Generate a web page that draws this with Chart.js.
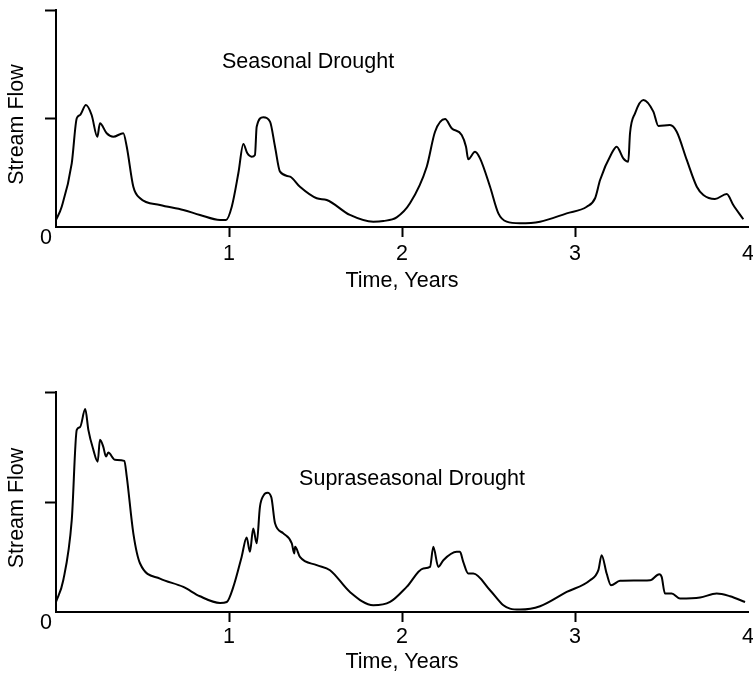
<!DOCTYPE html>
<html>
<head>
<meta charset="utf-8">
<script src="https://cdn.jsdelivr.net/npm/chart.js@4.4.1/dist/chart.umd.min.js"></script>
<style>
  html, body { margin: 0; padding: 0; background: #fff; }
  canvas { display: block; }
</style>
</head>
<body>
<canvas id="chart-seasonal" width="753" height="340"></canvas>
<canvas id="chart-supra" width="753" height="335"></canvas>
<script>
// axis ticks (years / relative flow)
const xTickValues = [0, 1, 2, 3, 4];
const yTickValues = [0, 1, 2];

// seasonal drought hydrograph
const seasonalYears = [
  0, 0.033, 0.091, 0.120, 0.139, 0.173, 0.206, 0.239, 0.254, 0.293,
  0.331, 0.389, 0.409, 0.447, 0.486, 0.601, 0.736, 0.832, 0.948, 0.983,
  1.016, 1.054, 1.083, 1.106, 1.131, 1.150, 1.160, 1.198, 1.237, 1.266,
  1.295, 1.353, 1.410, 1.507, 1.565, 1.699, 1.834, 1.892, 1.969, 2.046,
  2.143, 2.191, 2.249, 2.287, 2.345, 2.370, 2.383, 2.422, 2.451, 2.509,
  2.557, 2.605, 2.682, 2.798, 2.952, 3.068, 3.116, 3.145, 3.212, 3.241,
  3.279, 3.308, 3.318, 3.347, 3.395, 3.453, 3.482, 3.549, 3.588, 3.646,
  3.704, 3.742, 3.809, 3.877, 3.915, 3.973
];
const seasonalFlow = [
  0.065, 0.187, 0.587, 1.002, 1.032, 1.124, 1.032, 0.832, 0.956, 0.864,
  0.832, 0.864, 0.740, 0.371, 0.265, 0.203, 0.157, 0.111, 0.065, 0.065,
  0.187, 0.495, 0.765, 0.679, 0.648, 0.664, 0.924, 1.011, 0.971, 0.740,
  0.510, 0.464, 0.371, 0.265, 0.249, 0.111, 0.049, 0.055, 0.089, 0.218,
  0.556, 0.878, 0.995, 0.910, 0.848, 0.740, 0.624, 0.694, 0.633, 0.371,
  0.126, 0.049, 0.034, 0.049, 0.126, 0.187, 0.265, 0.433, 0.679, 0.740,
  0.633, 0.602, 0.864, 1.048, 1.171, 1.063, 0.931, 0.940, 0.878, 0.618,
  0.371, 0.295, 0.258, 0.304, 0.203, 0.071
];

// supraseasonal drought hydrograph
const supraYears = [
  0, 0.042, 0.091, 0.120, 0.139, 0.169, 0.187, 0.216, 0.241, 0.254,
  0.273, 0.289, 0.302, 0.341, 0.395, 0.409, 0.447, 0.486, 0.601, 0.736,
  0.832, 0.948, 0.987, 1.025, 1.073, 1.102, 1.121, 1.140, 1.160, 1.179,
  1.200, 1.222, 1.245, 1.266, 1.314, 1.363, 1.377, 1.382, 1.410, 1.507,
  1.584, 1.699, 1.834, 1.931, 2.027, 2.123, 2.162, 2.181, 2.210, 2.239,
  2.316, 2.335, 2.354, 2.383, 2.412, 2.509, 2.586, 2.624, 2.682, 2.798,
  2.952, 3.087, 3.135, 3.154, 3.183, 3.208, 3.260, 3.434, 3.487, 3.501,
  3.520, 3.559, 3.607, 3.723, 3.819, 3.896, 3.983
];
const supraFlow = [
  0.091, 0.289, 0.835, 1.656, 1.681, 1.845, 1.656, 1.474, 1.367, 1.565,
  1.504, 1.413, 1.449, 1.383, 1.374, 1.231, 0.715, 0.441, 0.304, 0.228,
  0.143, 0.082, 0.091, 0.228, 0.501, 0.678, 0.547, 0.760, 0.624, 0.957,
  1.060, 1.085, 1.040, 0.806, 0.715, 0.624, 0.532, 0.593, 0.501, 0.426,
  0.380, 0.182, 0.061, 0.091, 0.228, 0.396, 0.410, 0.593, 0.410, 0.471,
  0.547, 0.547, 0.456, 0.350, 0.350, 0.198, 0.061, 0.031, 0.022, 0.052,
  0.182, 0.289, 0.380, 0.517, 0.350, 0.243, 0.283, 0.289, 0.344, 0.319,
  0.168, 0.168, 0.122, 0.131, 0.168, 0.143, 0.091
];

const FONT = "'Liberation Sans', Arial, Helvetica, sans-serif";
const FONT_SIZE = 21.5;
Chart.defaults.font.family = FONT;
Chart.defaults.font.size = FONT_SIZE;
Chart.defaults.color = "#000";

// panel note, the y title (sits a little below the axis middle) and the lone "0" under the origin
const panelText = {
  id: "panelText",
  afterDraw(chart, args, opts) {
    const { ctx, scales: { x, y } } = chart;
    ctx.save();
    ctx.fillStyle = "#000";
    ctx.font = `${FONT_SIZE}px ${FONT}`;
    ctx.textAlign = "center";
    ctx.textBaseline = "middle";
    ctx.fillText("0", x.left - 10, y.bottom + 11);
    ctx.fillText(opts.text, x.getPixelForValue(opts.at[0]), y.getPixelForValue(opts.at[1]));
    ctx.translate(17, (y.top + y.bottom) / 2 + 6);
    ctx.rotate(-Math.PI / 2);
    ctx.fillText("Stream Flow", 0, 0);
    ctx.restore();
  }
};

function drawFlow(id, years, flow, note, noteAt, box) {
  const canvas = document.getElementById(id);
  return new Chart(canvas, {
    type: "line",
    data: {
      datasets: [{
        data: years.map((t, i) => ({ x: t, y: flow[i] })),
        borderColor: "#000",
        borderWidth: 2,
        pointRadius: 0,
        fill: false,
        cubicInterpolationMode: "monotone"
      }]
    },
    options: {
      responsive: false,
      animation: false,
      events: [],
      layout: { padding: { top: box.top, right: 5, left: 0, bottom: 0 } },
      plugins: {
        legend: { display: false },
        tooltip: { enabled: false },
        panelText: { text: note, at: noteAt }
      },
      scales: {
        x: {
          type: "linear",
          min: 0,
          max: 4,
          afterBuildTicks: s => { s.ticks = xTickValues.map(v => ({ value: v })); },
          afterFit: s => {
            s.height = box.xHeight;
            s.paddingLeft = 0;
            s.paddingRight = 0;
          },
          ticks: {
            padding: box.tickPad,
            maxRotation: 0,
            autoSkip: false,
            callback: v => (v === 0 ? "" : String(v))
          },
          grid: {
            drawOnChartArea: false,
            tickLength: 10,
            tickWidth: 2,
            color: c => (c.tick && c.tick.value > 0 && c.tick.value < 4 ? "#000" : "rgba(0,0,0,0)")
          },
          border: { display: true, color: "#000", width: 2 },
          title: {
            display: true,
            text: "Time, Years",
            padding: { top: 0, bottom: box.titlePad }
          }
        },
        y: {
          type: "linear",
          min: 0,
          max: 2,
          afterBuildTicks: s => { s.ticks = yTickValues.map(v => ({ value: v })); },
          afterFit: s => {
            s.width = 56;
            s.paddingTop = 0;
            s.paddingBottom = 0;
          },
          ticks: { display: false },
          grid: {
            drawOnChartArea: false,
            tickLength: 11,
            tickWidth: 2,
            color: c => (c.tick && c.tick.value > 0 ? "#000" : "rgba(0,0,0,0)")
          },
          border: { display: true, color: "#000", width: 2 }
        }
      }
    },
    plugins: [panelText]
  });
}

drawFlow("chart-seasonal", seasonalYears, seasonalFlow, "Seasonal Drought", [1.457, 1.52],
  { top: 10, xHeight: 113, tickPad: 4, titlePad: 46 });
drawFlow("chart-supra", supraYears, supraFlow, "Supraseasonal Drought", [2.058, 1.21],
  { top: 52, xHeight: 63, tickPad: 2, titlePad: 0 });
</script>
</body>
</html>
